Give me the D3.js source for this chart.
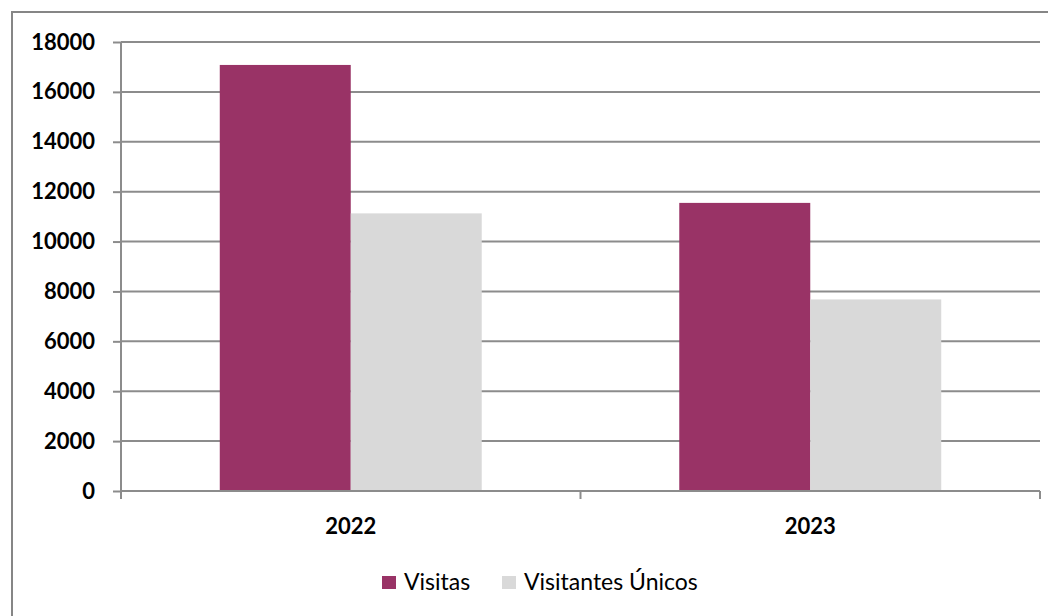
<!DOCTYPE html>
<html>
<head>
<meta charset="utf-8">
<script src="https://cdn.jsdelivr.net/npm/d3@7"></script>
<style>
  body { margin: 0; background: #fff; }
  text { font-family: Lato, "Open Sans", sans-serif; }
</style>
</head>
<body>
<div id="chart_container"></div>
<script>
// Data
var years = ["2022", "2023"];
var series = ["Visitas", "Visitantes Únicos"];
var visitas = [17080, 11550];
var visitantes = [11130, 7680];
var y_ticks = [0, 2000, 4000, 6000, 8000, 10000, 12000, 14000, 16000, 18000];

var colors = ["#993366", "#d9d9d9"];

// Chart dimensions
var width = 1048;
var height = 616;
var margin = {top: 42, right: 8, bottom: 125, left: 121};
var plot_w = width - margin.left - margin.right;
var plot_h = height - margin.top - margin.bottom;

var svg = d3.select("#chart_container")
    .append("svg")
    .attr("width", width)
    .attr("height", height);

// Outer frame (right and bottom edges fall off the picture)
svg.append("rect")
    .attr("x", 12)
    .attr("y", 12)
    .attr("width", width + 20)
    .attr("height", height + 20)
    .attr("fill", "white")
    .attr("stroke", "#868686")
    .attr("stroke-width", 2);

// Scales
var y_scale = d3.scaleLinear()
    .domain([0, 18000])
    .range([plot_h, 0]);

var x_scale = d3.scaleBand()
    .domain(years)
    .range([0, plot_w]);

var x_inner = d3.scaleBand()
    .domain(series)
    .range([0, x_scale.bandwidth()])
    .paddingOuter(0.754)
    .paddingInner(0);

var chart = svg.append("g")
    .attr("transform", "translate(" + margin.left + "," + margin.top + ")");

// Gridlines
chart.append("g")
    .selectAll("line")
    .data(y_ticks.slice(1))
    .enter()
    .append("line")
    .attr("x1", 0)
    .attr("x2", plot_w)
    .attr("y1", function(d) { return y_scale(d); })
    .attr("y2", function(d) { return y_scale(d); })
    .attr("stroke", "#8c8c8c")
    .attr("stroke-width", 2);

// Bars
var rows = years.map(function(y, i) {
    return {year: y, values: [visitas[i], visitantes[i]]};
});

var groups = chart.append("g")
    .selectAll("g")
    .data(rows)
    .enter()
    .append("g")
    .attr("transform", function(d) { return "translate(" + x_scale(d.year) + ",0)"; });

groups.selectAll("rect")
    .data(function(d) { return d.values.map(function(v, j) { return {s: series[j], v: v, j: j}; }); })
    .enter()
    .append("rect")
    .attr("x", function(d) { return x_inner(d.s); })
    .attr("y", function(d) { return y_scale(d.v); })
    .attr("width", x_inner.bandwidth())
    .attr("height", function(d) { return plot_h - y_scale(d.v); })
    .attr("fill", function(d) { return colors[d.j]; });

// Y axis
var y_axis = d3.axisLeft(y_scale)
    .tickValues(y_ticks)
    .tickSize(8)
    .tickPadding(18)
    .tickFormat(d3.format("d"));

var y_g = chart.append("g").call(y_axis);
y_g.selectAll("path, line").attr("stroke", "#8c8c8c").attr("stroke-width", 2);
y_g.select(".domain").attr("d", "M0," + plot_h + "V0");
y_g.selectAll("text")
    .style("font-size", "22px")
    .style("font-weight", "bold")
    .attr("fill", "#000");

// X axis
var x_axis = d3.axisBottom(x_scale)
    .tickSize(0)
    .tickPadding(27);

var x_g = chart.append("g")
    .attr("transform", "translate(0," + plot_h + ")")
    .call(x_axis);
x_g.select(".domain").attr("d", "M0,0H" + plot_w).attr("stroke", "#8c8c8c").attr("stroke-width", 2);
x_g.selectAll("text")
    .style("font-size", "22px")
    .style("font-weight", "bold")
    .attr("fill", "#000");

// Category separator ticks
x_g.append("g")
    .selectAll("line")
    .data([0, plot_w / 2, plot_w])
    .enter()
    .append("line")
    .attr("x1", function(d) { return d; })
    .attr("x2", function(d) { return d; })
    .attr("y1", 0)
    .attr("y2", 8)
    .attr("stroke", "#8c8c8c")
    .attr("stroke-width", 2);

// Legend
var legend_x = [382, 502];
var legend = svg.append("g")
    .selectAll("g")
    .data(series)
    .enter()
    .append("g")
    .attr("transform", function(d, i) { return "translate(" + legend_x[i] + ",576)"; });

legend.append("rect")
    .attr("width", 14)
    .attr("height", 13)
    .attr("fill", function(d, i) { return colors[i]; });

legend.append("text")
    .attr("x", 22)
    .attr("y", 14)
    .style("font-size", "23px")
    .attr("fill", "#000")
    .text(function(d) { return d; });
</script>
</body>
</html>
